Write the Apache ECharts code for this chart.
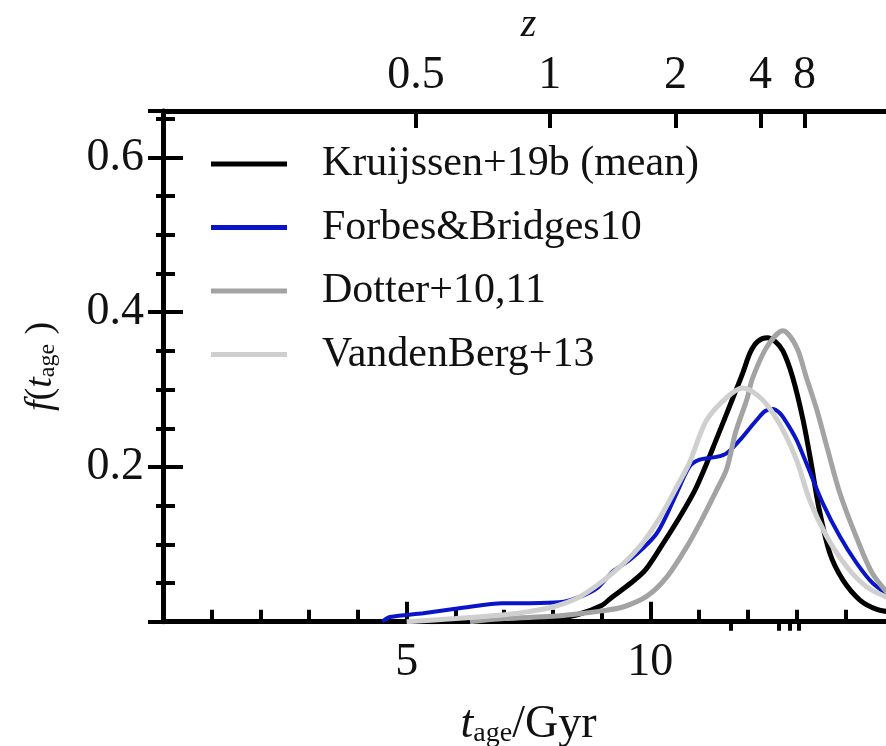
<!DOCTYPE html>
<html><head><meta charset="utf-8">
<script src="https://cdn.jsdelivr.net/npm/echarts@6/dist/echarts.min.js"></script>
<style>html,body{margin:0;padding:0;background:#fff}#c{width:886px;height:746px}</style>
</head><body><div id="c"></div>
<script>
// ---- data ----
const seriesNames = ['Kruijssen+19b (mean)', 'Forbes&Bridges10', 'Dotter+10,11', 'VandenBerg+13'];

const ageK = [5.5, 7.0, 8.0, 8.5, 9.0, 9.2, 9.6, 9.9, 10.25, 10.6, 10.9, 11.1, 11.35, 11.7, 11.9, 12.05, 12.2, 12.4, 12.55, 12.72, 12.92, 13.13, 13.3, 13.45, 13.68, 13.95, 14.3, 14.65, 15.0];
const fK   = [0.0, 0.002, 0.004, 0.009, 0.021, 0.031, 0.050, 0.067, 0.100, 0.135, 0.168, 0.196, 0.235, 0.290, 0.322, 0.348, 0.362, 0.367, 0.363, 0.350, 0.316, 0.262, 0.205, 0.150, 0.089, 0.054, 0.028, 0.016, 0.012];

const ageFB = [4.5, 4.66, 5.34, 6.15, 6.97, 7.53, 8.14, 8.55, 8.9, 9.23, 9.58, 10.13, 10.54, 10.8, 11.0, 11.36, 11.57, 11.84, 12.04, 12.2, 12.35, 12.5, 12.65, 12.8, 13.0, 13.2, 13.54, 13.89, 14.23, 14.56, 15.0];
const fFB   = [0.0, 0.006, 0.011, 0.018, 0.024, 0.024, 0.025, 0.032, 0.043, 0.065, 0.080, 0.114, 0.166, 0.200, 0.209, 0.213, 0.218, 0.235, 0.250, 0.262, 0.272, 0.275, 0.270, 0.257, 0.235, 0.205, 0.153, 0.110, 0.076, 0.050, 0.030];

const ageD = [6.3, 7.0, 8.0, 8.5, 9.0, 9.44, 9.93, 10.34, 10.75, 11.08, 11.36, 11.57, 11.75, 11.98, 12.1, 12.39, 12.72, 13.0, 13.2, 13.42, 13.64, 13.89, 14.23, 14.56, 15.0];
const fD   = [0.0, 0.004, 0.007, 0.010, 0.014, 0.019, 0.033, 0.058, 0.097, 0.135, 0.170, 0.198, 0.245, 0.287, 0.315, 0.355, 0.376, 0.355, 0.316, 0.273, 0.222, 0.166, 0.109, 0.062, 0.028];

const ageV = [5.0, 6.0, 7.0, 7.5, 8.0, 8.55, 9.23, 9.78, 10.2, 10.54, 10.8, 11.15, 11.57, 11.9, 12.1, 12.3, 12.51, 12.72, 13.0, 13.27, 13.62, 14.03, 14.44, 14.83, 15.0];
const fV   = [0.0, 0.004, 0.009, 0.013, 0.019, 0.032, 0.063, 0.097, 0.135, 0.174, 0.205, 0.260, 0.290, 0.302, 0.297, 0.287, 0.270, 0.248, 0.209, 0.157, 0.110, 0.071, 0.045, 0.032, 0.028];

// top axis: redshift tick labels
const zMajor = [0.5, 1, 2, 4, 8];
const zMinor = [3, 5, 6, 7];
const xTickLabels = [5, 10];
const yTickLabels = [0.2, 0.4, 0.6];

// ---- redshift -> lookback time (Planck cosmology) for top-axis tick placement ----
function lookback(z) {
  const H0 = 67.74, Om = 0.3089, OL = 1 - Om, tH = 977.79 / H0;
  const n = 400, h = z / n;
  const f = x => 1 / ((1 + x) * Math.sqrt(Om * Math.pow(1 + x, 3) + OL));
  let s = f(0) + f(z);
  for (let i = 1; i < n; i++) s += (i % 2 ? 4 : 2) * f(i * h);
  return tH * s * h / 3;
}
const zMajorAges = zMajor.map(lookback);
const zMinorAges = zMinor.map(lookback);

const FONT = 'Liberation Serif';
const BLACK = '#111';
const colors = ['#000000', '#0a14c8', '#a3a3a3', '#cfcfcf'];

const pairs = (a, b) => a.map((x, i) => [x, b[i]]);
const datasets = [pairs(ageK, fK), pairs(ageFB, fFB), pairs(ageD, fD), pairs(ageV, fV)];

const X_MIN = 0, X_MAX = 15, Y_MIN = 0, Y_MAX = 0.66;

const lineW = 5, tickW = 4;
const axisLineStyle = { color: '#000', width: lineW };

const chart = echarts.init(document.getElementById('c'), null, { renderer: 'canvas' });

const richSub = (size, subSize, drop) => ({
  i: { fontFamily: FONT, fontStyle: 'italic', fontSize: size, color: BLACK, verticalAlign: 'bottom', lineHeight: size + 6 },
  n: { fontFamily: FONT, fontSize: size, color: BLACK, verticalAlign: 'bottom', lineHeight: size + 6 },
  s: { fontFamily: FONT, fontSize: subSize, color: BLACK, verticalAlign: 'bottom', lineHeight: drop }
});

const option = {
  animation: false,
  backgroundColor: '#fff',
  grid: { left: 163, top: 111, width: 731, height: 510.7, containLabel: false, outerBoundsMode: 'none' },
  legend: {
    data: seriesNames,
    orient: 'vertical',
    left: 211, top: 142,
    padding: 0,
    itemGap: 19.5,
    itemWidth: 76, itemHeight: 5,
    icon: 'rect',
    textStyle: { fontFamily: FONT, fontSize: 42, color: BLACK, lineHeight: 44, padding: [0, 0, 0, 30] }
  },
  xAxis: [
    {
      type: 'value', position: 'bottom', min: X_MIN, max: X_MAX, interval: 5,
      axisLine: { show: true, onZero: false, lineStyle: axisLineStyle },
      axisTick: { show: true, inside: true, length: 20, lineStyle: { color: '#000', width: tickW } },
      minorTick: { show: true, splitNumber: 5, length: 12, lineStyle: { color: '#000', width: tickW } },
      splitLine: { show: false },
      axisLabel: {
        margin: 18, fontFamily: FONT, fontSize: 46, color: BLACK,
        formatter: v => xTickLabels.some(t => Math.abs(t - v) < 1e-6) ? String(v) : ''
      },
      name: '{i|t}{s|age}{n|/Gyr}',
      nameLocation: 'middle', nameGap: 74, nameMoveOverlap: false,
      nameTextStyle: { rich: richSub(46, 28, 22) }
    },
    {
      type: 'value', position: 'top', min: X_MIN, max: X_MAX,
      axisLine: { show: true, onZero: false, lineStyle: axisLineStyle },
      axisTick: { show: true, inside: true, length: 17, customValues: zMajorAges, lineStyle: { color: '#000', width: tickW } },
      splitLine: { show: false },
      axisLabel: {
        show: true, customValues: zMajorAges, margin: 12, fontFamily: FONT, fontSize: 46, color: BLACK,
        formatter: v => { const i = zMajorAges.findIndex(a => Math.abs(a - v) < 1e-6); return i >= 0 ? String(zMajor[i]) : ''; }
      },
      name: 'z', nameLocation: 'middle', nameGap: 66, nameMoveOverlap: false,
      nameTextStyle: { fontFamily: FONT, fontStyle: 'italic', fontSize: 40, color: BLACK }
    },
    {
      type: 'value', position: 'top', min: X_MIN, max: X_MAX,
      axisLine: { show: false },
      axisTick: { show: true, inside: true, length: 9, customValues: zMinorAges, lineStyle: { color: '#000', width: tickW } },
      splitLine: { show: false },
      axisLabel: { show: false }
    }
  ],
  yAxis: [
    {
      type: 'value', position: 'left', min: Y_MIN, max: Y_MAX, interval: 0.2,
      axisLine: { show: true, onZero: false, lineStyle: axisLineStyle },
      axisTick: { show: true, inside: true, length: 20, lineStyle: { color: '#000', width: tickW } },
      splitLine: { show: false },
      axisLabel: {
        margin: 19, fontFamily: FONT, fontSize: 46, color: BLACK,
        formatter: v => yTickLabels.some(t => Math.abs(t - v) < 1e-6) ? v.toFixed(1) : ''
      },
      name: '{i|f}{n|(}{i|t}{s|age}{n| )}',
      nameLocation: 'middle', nameGap: 103, nameRotate: 90, nameMoveOverlap: false,
      nameTextStyle: { rich: richSub(38, 24, 19) }
    },
    {
      type: 'value', position: 'left', min: Y_MIN, max: Y_MAX, interval: 0.05,
      axisLine: { show: false },
      axisTick: { show: true, inside: true, length: 12, lineStyle: { color: '#000', width: tickW } },
      splitLine: { show: false }, axisLabel: { show: false }
    },
    {
      type: 'value', position: 'right', offset: -5, min: Y_MIN, max: Y_MAX, interval: 0.2,
      axisLine: { show: false },
      axisTick: { show: true, inside: true, length: 20, lineStyle: { color: '#000', width: tickW } },
      splitLine: { show: false }, axisLabel: { show: false }
    },
    {
      type: 'value', position: 'right', offset: -5, min: Y_MIN, max: Y_MAX, interval: 0.05,
      axisLine: { show: false },
      axisTick: { show: true, inside: true, length: 12, lineStyle: { color: '#000', width: tickW } },
      splitLine: { show: false }, axisLabel: { show: false }
    }
  ],
  series: seriesNames.map((name, k) => ({
    name, type: 'line', xAxisIndex: 0, yAxisIndex: 0,
    data: datasets[k],
    smooth: 0.3, showSymbol: false, symbol: 'none',
    color: colors[k],
    lineStyle: { color: colors[k], width: k === 1 ? 4 : 5 },
    clip: true, z: 2 + k
  }))
};
chart.setOption(option);
</script>
</body></html>
